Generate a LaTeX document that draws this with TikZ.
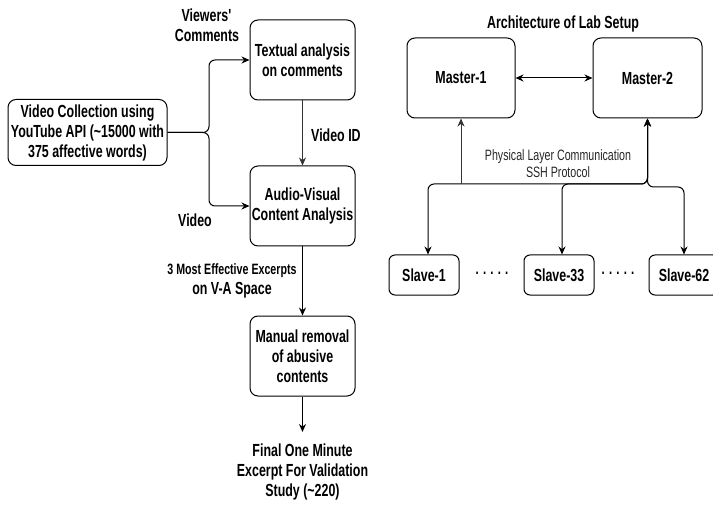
\documentclass[tikz,border=0pt]{standalone}
\usepackage{fontspec}
\setmainfont{Liberation Sans}[FakeStretch=0.71]
\usetikzlibrary{arrows.meta}
\begin{document}
\begin{tikzpicture}[x=1pt,y=-1pt,
  bfont/.style={font=\bfseries\fontsize{17.5}{20}\selectfont},
  box/.style={draw, line width=1pt, rounded corners=8pt, align=center, bfont, inner sep=0pt},
  slavebox/.style={box, rounded corners=6pt, minimum width=70pt, minimum height=40pt},
  lbl/.style={align=center, bfont, inner sep=0pt},
  conn/.style={line width=1pt, -{Stealth[length=8pt,width=7pt]}},
  thinconn/.style={line width=0.8pt, draw=black!80, -{Stealth[length=8pt,width=7pt]}},
  bidir/.style={line width=1pt, {Stealth[length=8pt,width=7pt]}-{Stealth[length=8pt,width=7pt]}, rounded corners=6pt}
]
\useasboundingbox (0,0) rectangle (713,508);

% ---------- left flow ----------
\node[box, minimum width=159pt, minimum height=66pt] (vc) at (87.5,132.5)
  {Video Collection using\\YouTube API (\textasciitilde15000 with\\375 affective words)};
\node[box, minimum width=105pt, minimum height=80pt] (ta) at (302.5,60) {Textual analysis\\on comments};
\node[box, minimum width=105pt, minimum height=80pt] (av) at (302.5,206) {Audio-Visual\\Content Analysis};
\node[box, minimum width=105pt, minimum height=80pt] (mr) at (302.5,356) {Manual removal\\of abusive\\contents};
\node[lbl, anchor=north, inner ysep=12pt] (fin) at (302.5,432)
  {Final One Minute\\Excerpt For Validation\\Study (\textasciitilde220)};

\node[lbl] (vcm) at (207,25.5) {Viewers\textquotesingle\\Comments};
\node[lbl] (vidl) at (195,220) {Video};
\node[lbl, anchor=west] (vidid) at (311,135) {Video ID};
\node[lbl] (eff) at (232,281) {{\fontsize{15}{16}\selectfont 3 Most Effective Excerpts}\\on V-A Space};

\coordinate (br) at (209,133);
\draw[conn, rounded corners=6pt] (vc.east) -- (vc.east -| br) |- (ta.west);
\draw[conn, rounded corners=6pt] (vc.east) -- (vc.east -| br) |- (av.west);
\draw[thinconn] (ta) -- (av);
\draw[conn] (av) -- (mr);
\draw[conn] (mr) -- (fin);

% ---------- right: lab setup ----------
\node[lbl] (title) at (563,23.5) {Architecture of Lab Setup};
\node[box, minimum width=108pt, minimum height=80pt] (m1) at (461,78) {Master-1};
\node[box, minimum width=109pt, minimum height=80pt] (m2) at (647.5,78) {Master-2};
\node[align=center, inner sep=0pt, text=black!85, font=\fontsize{15}{17}\selectfont] (phy) at (558,163.5)
  {Physical Layer Communication\\SSH Protocol};

\node[slavebox] (s1) at (424,275) {Slave-1};
\node[slavebox] (s33) at (559,275) {Slave-33};
\node[slavebox] (s62) at (684,275) {Slave-62};
\node[inner sep=0pt, font=\bfseries\fontsize{16}{20}\selectfont] (d1) at (492,273) {. . . . .};
\node[inner sep=0pt, font=\bfseries\fontsize{16}{20}\selectfont] (d2) at (618,273) {. . . . .};

\draw[bidir] (m1) -- (m2);
\coordinate (bus) at (0,184);
\coordinate (bustwo) at (0,187);
\draw[bidir] (m2.south) -- (m2.south |- bus) -| ([xshift=4pt]s1.north);
\draw[bidir] (m2.south) -- (m2.south |- bus) -| ([xshift=3pt]s33.north);
\draw[bidir] (m2.south) -- (m2.south |- bustwo) -| (s62.north);
\draw[thinconn] (m1.south |- bus) -- (m1.south);
\end{tikzpicture}
\end{document}
